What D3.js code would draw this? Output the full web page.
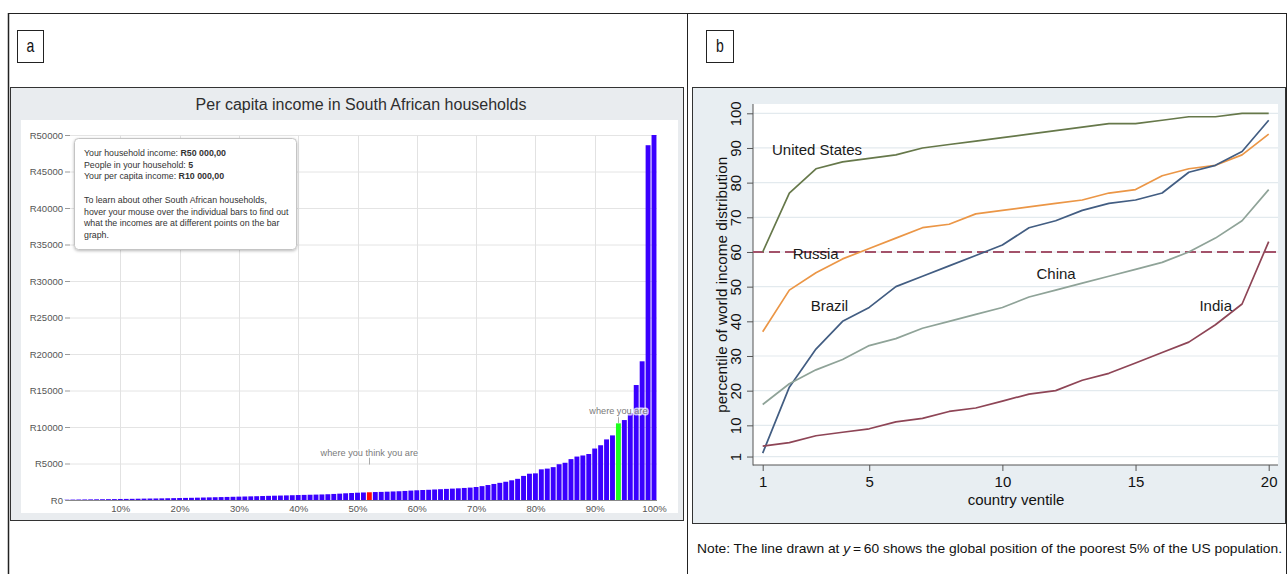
<!DOCTYPE html>
<html>
<head>
<meta charset="utf-8">
<script src="https://cdn.jsdelivr.net/npm/d3@7"></script>
<style>
  html, body { margin: 0; padding: 0; background: #fff; }
  svg { display: block; }
  text { font-family: "Liberation Sans", Arial, Helvetica, sans-serif; }
  .narrow { font-family: "Liberation Sans Narrow", "Arial Narrow", "Liberation Sans", Arial, sans-serif; }
</style>
</head>
<body>
<svg id="fig" width="1287" height="574"></svg>
<script>
// ---------- Panel a: per capita income by household percentile (rand) ----------
const percentiles = d3.range(1, 101);
const incomeByPercentile = [
  40, 55, 65, 75, 85, 95, 105, 115, 125, 140,
  150, 160, 175, 190, 200, 210, 225, 240, 255, 270,
  285, 300, 320, 340, 360, 380, 400, 420, 440, 460,
  480, 500, 520, 545, 570, 590, 610, 630, 655, 680,
  700, 720, 740, 760, 790, 830, 870, 920, 960, 1000,
  1030, 1060, 1090, 1110, 1140, 1170, 1200, 1240, 1290, 1330,
  1370, 1400, 1440, 1480, 1520, 1560, 1600, 1650, 1700, 1780,
  1900, 2050, 2200, 2350, 2500, 2700, 2900, 3300, 3600, 3650,
  4200, 4300, 4500, 4900, 5100, 5600, 5950, 6100, 6300, 7050,
  7500, 8300, 8850, 10500, 10950, 11900, 15750, 19000, 48600, 50000
];
const incomeTicks = [0, 5000, 10000, 15000, 20000, 25000, 30000, 35000, 40000, 45000, 50000];
const percentTicks = [10, 20, 30, 40, 50, 60, 70, 80, 90, 100];
const thinkPercentile = 52;   // "where you think you are"
const actualPercentile = 94;  // "where you are"
const markerLabels = [
  { p: thinkPercentile, level: 6500, text: "where you think you are" },
  { p: actualPercentile, level: 12200, text: "where you are" }
];
const tooltipLines = [
  ["Your household income: ", "R50 000,00"],
  ["People in your household: ", "5"],
  ["Your per capita income: ", "R10 000,00"],
  ["", ""],
  ["To learn about other South African households,", ""],
  ["hover your mouse over the individual bars to find out", ""],
  ["what the incomes are at different points on the bar", ""],
  ["graph.", ""]
];

// ---------- Panel b: position of country ventiles in the world distribution ----------
const ventiles = d3.range(1, 21);
const usValues     = [60, 77, 84, 86, 87, 88, 90, 91, 92, 93, 94, 95, 96, 97, 97, 98, 99, 99, 100, 100];
const russiaValues = [37, 49, 54, 58, 61, 64, 67, 68, 71, 72, 73, 74, 75, 77, 78, 82, 84, 85, 88, 94];
const brazilValues = [2, 21, 32, 40, 44, 50, 53, 56, 59, 62, 67, 69, 72, 74, 75, 77, 83, 85, 89, 98];
const chinaValues  = [16, 22, 26, 29, 33, 35, 38, 40, 42, 44, 47, 49, 51, 53, 55, 57, 60, 64, 69, 78];
const indiaValues  = [4, 5, 7, 8, 9, 11, 12, 14, 15, 17, 19, 20, 23, 25, 28, 31, 34, 39, 45, 63];
const referenceLevel = 60;
const percentileTicks = [1, 10, 20, 30, 40, 50, 60, 70, 80, 90, 100];
const ventileTicks = [1, 5, 10, 15, 20];
const countryNames = ["United States", "Russia", "Brazil", "China", "India"];
// label anchors in data units (ventile, percentile)
const countryLabelAt = [[1.35, 89.4], [2.13, 59.6], [2.8, 44.5], [11.28, 53.9], [17.4, 44.5]];

const svg = d3.select("#fig");

const defs = svg.append("defs");
const shadow = defs.append("filter").attr("id", "tipShadow")
  .attr("x", "-10%").attr("y", "-10%").attr("width", "120%").attr("height", "130%");
shadow.append("feDropShadow").attr("dx", 0).attr("dy", 1).attr("stdDeviation", 1.5)
  .attr("flood-color", "#000").attr("flood-opacity", 0.28);

// ---------- frame lines of the two-panel figure ----------
const frame = svg.append("g").attr("stroke", "#222").attr("stroke-width", 1).attr("fill", "none");
frame.append("line").attr("x1", 8).attr("x2", 1287).attr("y1", 13.5).attr("y2", 13.5);
frame.append("line").attr("x1", 8.5).attr("x2", 8.5).attr("y1", 13).attr("y2", 574).attr("stroke-width", 1.5);
frame.append("line").attr("x1", 687.5).attr("x2", 687.5).attr("y1", 13).attr("y2", 574);
frame.append("line").attr("x1", 1286.5).attr("x2", 1286.5).attr("y1", 13).attr("y2", 574);

function panelTag(x, w, letter) {
  svg.append("rect").attr("x", x + 0.5).attr("y", 30.5).attr("width", w).attr("height", 32)
    .attr("fill", "#fff").attr("stroke", "#222");
  svg.append("text").attr("class", "narrow")
    .attr("transform", `translate(${x + 0.5 + w / 2},52) scale(0.78,1)`)
    .attr("text-anchor", "middle").attr("font-size", 18).attr("fill", "#111").text(letter);
}
panelTag(17, 26, "a");
panelTag(706, 27, "b");

// =============== Panel a ===============
const A = svg.append("g");
A.append("rect").attr("x", 10.5).attr("y", 87.5).attr("width", 673).attr("height", 433)
  .attr("fill", "#e9ecef").attr("stroke", "#333");
A.append("rect").attr("x", 21).attr("y", 120).attr("width", 657).attr("height", 393).attr("fill", "#fff");

A.append("text").attr("x", 361).attr("y", 109.5).attr("text-anchor", "middle")
  .attr("font-size", 16).attr("fill", "#2e2e2e").text("Per capita income in South African households");

const xA = d3.scaleLinear().domain([0, 100]).range([61, 654]);
const yA = d3.scaleLinear().domain([0, 50000]).range([500, 135]);

// grid
A.append("g").selectAll("line").data(incomeTicks.filter(d => d > 0)).join("line")
  .attr("x1", 70).attr("x2", 657).attr("y1", d => yA(d) + 0.5).attr("y2", d => yA(d) + 0.5)
  .attr("stroke", "#e4e4e4");
A.append("g").selectAll("line").data(percentTicks).join("line")
  .attr("x1", d => Math.round(xA(d)) + 0.5).attr("x2", d => Math.round(xA(d)) + 0.5)
  .attr("y1", yA(50000)).attr("y2", 500)
  .attr("stroke", "#e2e2e2");

// y axis
const yAxisA = A.append("g").attr("transform", "translate(70,0)")
  .call(d3.axisLeft(yA).tickValues(incomeTicks).tickSize(5).tickPadding(2).tickFormat(d => "R" + d));
yAxisA.select(".domain").remove();
yAxisA.selectAll(".tick line").attr("stroke", "#999");
yAxisA.selectAll(".tick text").attr("font-size", 9.5).attr("fill", "#555")
  .attr("font-family", "'Liberation Sans', Arial, sans-serif");

// baseline
A.append("line").attr("x1", 66).attr("x2", 657).attr("y1", 500.5).attr("y2", 500.5).attr("stroke", "#888");

// bars
const barW = 4.9;
A.append("g").selectAll("rect").data(percentiles).join("rect")
  .attr("x", p => xA(p) - barW / 2)
  .attr("width", barW)
  .attr("y", (p, i) => yA(incomeByPercentile[i]))
  .attr("height", (p, i) => 500 - yA(incomeByPercentile[i]))
  .attr("fill", p => p === thinkPercentile ? "#ff0a0a" : p === actualPercentile ? "#1cff1c" : "#3a00ff");

// x axis labels
const xAxisA = A.append("g").attr("transform", "translate(0,500)")
  .call(d3.axisBottom(xA).tickValues(percentTicks).tickSize(0).tickPadding(5).tickFormat(d => d + "%"));
xAxisA.select(".domain").remove();
xAxisA.selectAll(".tick text").attr("font-size", 9.5).attr("fill", "#555")
  .attr("font-family", "'Liberation Sans', Arial, sans-serif");

// marker labels
const ml = A.append("g").selectAll("g").data(markerLabels).join("g");
ml.append("line")
  .attr("x1", d => Math.round(xA(d.p)) + 0.5).attr("x2", d => Math.round(xA(d.p)) + 0.5)
  .attr("y1", d => yA(d.level) + 5).attr("y2", d => yA(d.level) + 12)
  .attr("stroke", "#aaa");
ml.append("text")
  .attr("x", d => xA(d.p)).attr("y", d => yA(d.level)).attr("dy", "0.35em")
  .attr("text-anchor", "middle").attr("font-size", 9.2).attr("fill", "#7a7a7a")
  .attr("stroke", "#fff").attr("stroke-opacity", 0.75).attr("stroke-width", 3)
  .attr("stroke-linejoin", "round").attr("paint-order", "stroke")
  .text(d => d.text);

// tooltip
const tip = A.append("g");
tip.append("rect").attr("x", 74.5).attr("y", 138.5).attr("width", 222).attr("height", 111).attr("rx", 4)
  .attr("fill", "#fff").attr("stroke", "#c4c4c4").attr("filter", "url(#tipShadow)");
const lineY = [156, 167.5, 179, 190.5, 203, 214.5, 226, 237.5];
tooltipLines.forEach((ln, i) => {
  if (!ln[0] && !ln[1]) return;
  const t = tip.append("text").attr("x", 84).attr("y", lineY[i]).attr("font-size", 8.8).attr("fill", "#333");
  t.append("tspan").text(ln[0]);
  if (ln[1]) t.append("tspan").attr("font-weight", "bold").text(ln[1]);
});

// =============== Panel b ===============
const B = svg.append("g");
B.append("rect").attr("x", 692.5).attr("y", 87.5).attr("width", 593).attr("height", 436)
  .attr("fill", "#e8eef2").attr("stroke", "#333");
B.append("rect").attr("x", 753).attr("y", 104).attr("width", 525).attr("height", 361).attr("fill", "#fff");

const xB = d3.scaleLinear().domain([1, 20]).range([762.7, 1268.7]);
const yB = d3.scaleLinear().domain([0, 100]).range([460, 113.3]);

// grid
B.append("g").selectAll("line").data(percentileTicks).join("line")
  .attr("x1", 753).attr("x2", 1278).attr("y1", d => yB(d)).attr("y2", d => yB(d))
  .attr("stroke", "#e3eaee").attr("stroke-width", 1.2);

// axes
const yAxisB = B.append("g").attr("transform", "translate(753,0)")
  .call(d3.axisLeft(yB).tickValues(percentileTicks).tickSize(6));
yAxisB.select(".domain").remove();
yAxisB.selectAll(".tick line").attr("stroke", "#555");
yAxisB.selectAll(".tick text")
  .attr("transform", "rotate(-90)").attr("x", 0).attr("y", -12).attr("dy", 0)
  .attr("text-anchor", "middle").attr("font-size", 15).attr("fill", "#111")
  .attr("font-family", "'Liberation Sans', Arial, sans-serif");

const xAxisB = B.append("g").attr("transform", "translate(0,465)")
  .call(d3.axisBottom(xB).tickValues(ventileTicks).tickSize(6).tickPadding(5));
xAxisB.select(".domain").remove();
xAxisB.selectAll(".tick line").attr("stroke", "#555");
xAxisB.selectAll(".tick text").attr("font-size", 15).attr("fill", "#111")
  .attr("font-family", "'Liberation Sans', Arial, sans-serif");

B.append("line").attr("x1", 753).attr("x2", 753).attr("y1", 104).attr("y2", 465.5).attr("stroke", "#555");
B.append("line").attr("x1", 753).attr("x2", 1278).attr("y1", 465).attr("y2", 465).attr("stroke", "#555");

B.append("text").attr("x", 1016).attr("y", 505).attr("text-anchor", "middle")
  .attr("font-size", 15).attr("fill", "#111").text("country ventile");
B.append("text").attr("transform", "translate(727,284.7) rotate(-90)").attr("text-anchor", "middle")
  .attr("font-size", 15.3).attr("fill", "#111").text("percentile of world income distribution");

// reference line at y = 60
B.append("line").attr("x1", 753).attr("x2", 1278)
  .attr("y1", yB(referenceLevel)).attr("y2", yB(referenceLevel))
  .attr("stroke", "#a3526a").attr("stroke-width", 2.2).attr("stroke-dasharray", "11,5");

const seriesB = [
  { values: usValues, color: "#66784a" },
  { values: russiaValues, color: "#eb9646" },
  { values: brazilValues, color: "#425d82" },
  { values: chinaValues, color: "#8fa398" },
  { values: indiaValues, color: "#8e4556" }
];
const lineGen = d3.line().x((d, i) => xB(ventiles[i])).y(d => yB(d));
B.append("g").selectAll("path").data(seriesB).join("path")
  .attr("d", s => lineGen(s.values))
  .attr("fill", "none").attr("stroke", s => s.color).attr("stroke-width", 1.7)
  .attr("stroke-linejoin", "round");

B.append("g").selectAll("text").data(countryNames).join("text")
  .attr("x", (d, i) => xB(countryLabelAt[i][0]))
  .attr("y", (d, i) => yB(countryLabelAt[i][1]))
  .attr("dy", "0.36em").attr("font-size", 15).attr("fill", "#1a1a1a")
  .text(d => d);

// note under panel b
const note = svg.append("text").attr("class", "narrow").attr("x", 697).attr("y", 553)
  .attr("font-size", 13.5).attr("fill", "#111")
  .attr("textLength", 585).attr("lengthAdjust", "spacingAndGlyphs");
note.append("tspan").text("Note: The line drawn at ");
note.append("tspan").attr("font-style", "italic").text("y");
note.append("tspan").text("\u2009=\u200960 shows the global position of the poorest 5% of the US population.");
</script>
</body>
</html>
